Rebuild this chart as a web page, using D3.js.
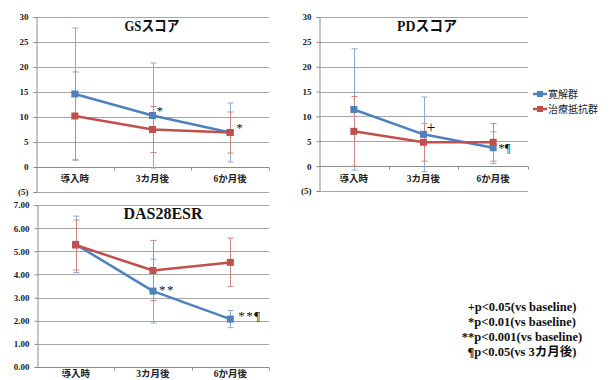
<!DOCTYPE html>
<html><head><meta charset="utf-8">
<script src="https://cdn.jsdelivr.net/npm/d3@7"></script>
<style>
html,body{margin:0;padding:0;background:#fff;}
svg{display:block;}
</style></head>
<body>
<script>
// ---- data ----
const categories = ["導入時", "3カ月後", "6か月後"];
const seriesNames = ["寛解群", "治療抵抗群"];

const gsRemission = [14.6, 10.3, 6.9];
const gsRemissionSD = [13.2, 10.5, 5.9];
const gsResistant = [10.2, 7.5, 6.9];
const gsResistantSD = [8.8, 4.6, 4.1];

const pdRemission = [11.4, 6.4, 3.7];
const pdRemissionSD = [12.2, 7.5, 3.2];
const pdResistant = [7.0, 4.8, 4.8];
const pdResistantSD = [7.0, 3.8, 3.8];

const dasRemission = [5.30, 3.28, 2.07];
const dasRemissionSD = [1.22, 1.38, 0.37];
const dasResistant = [5.27, 4.17, 4.52];
const dasResistantSD = [1.08, 1.30, 1.05];

const scoreTicks = [-5, 0, 5, 10, 15, 20, 25, 30];
const dasTicks = [0, 1, 2, 3, 4, 5, 6, 7];

const gsMarks = [{cat: 1, s: 0, text: "*"}, {cat: 2, s: 0, text: "*"}];
const pdMarks = [{cat: 1, s: 0, text: "+"}, {cat: 2, s: 0, text: "*¶"}];
const dasMarks = [{cat: 1, s: 0, text: "**"}, {cat: 2, s: 0, text: "**¶"}];

const footnotes = ["+p<0.05(vs baseline)", "*p<0.01(vs baseline)", "**p<0.001(vs baseline)", "¶p<0.05(vs 3カ月後)"];

// ---- style ----
const colors = ["#4F81BD", "#C0504D"];
const errColors = ["#8DAAD3", "#CC8583"];
const serif = "'Liberation Serif','DejaVu Serif','Noto Sans CJK JP',serif";
const gothic = "'Noto Sans CJK JP','DejaVu Sans',sans-serif";

const svg = d3.select("body").append("svg").attr("width", 611).attr("height", 380);

function panel(cfg) {
  const g = svg.append("g");
  const x = d3.scaleBand().domain(categories).range([cfg.x0, cfg.x1]);
  const y = d3.scaleLinear().domain(cfg.domain).range([cfg.y0, cfg.y1]);

  // gridlines
  g.append("g").selectAll("line").data(cfg.ticks).join("line")
    .attr("x1", cfg.x0).attr("x2", cfg.x1)
    .attr("y1", d => Math.round(y(d)) + 0.5).attr("y2", d => Math.round(y(d)) + 0.5)
    .attr("stroke", d => d === cfg.base ? "#8c8c8c" : "#a6a6a6").attr("stroke-width", 1);

  // y axis
  const ya = d3.axisLeft(y).tickValues(cfg.ticks).tickSize(3).tickFormat(cfg.fmt);
  const yg = g.append("g").attr("transform", `translate(${cfg.x0 + 0.5},0)`).call(ya);
  yg.select(".domain").attr("stroke", "#8c8c8c");
  yg.selectAll(".tick line").attr("stroke", "#8c8c8c");
  yg.selectAll(".tick text").attr("font-family", serif).attr("font-weight", "bold")
    .attr("font-size", cfg.tickFont).attr("fill", "#222").attr("dx", "-2px");

  // category axis at base value
  const by = Math.round(y(cfg.base)) + 0.5;
  const bounds = [cfg.x0 + x.step(), cfg.x0 + 2 * x.step(), cfg.x1];
  g.append("g").selectAll("line").data(bounds).join("line")
    .attr("x1", d => Math.round(d) + 0.5).attr("x2", d => Math.round(d) + 0.5)
    .attr("y1", by).attr("y2", by + 3).attr("stroke", "#8c8c8c");
  g.append("g").selectAll("text").data(categories).join("text")
    .attr("x", d => x(d) + x.bandwidth() / 2).attr("y", cfg.labelY)
    .attr("text-anchor", "middle").attr("font-family", serif).attr("font-weight", "bold")
    .attr("font-size", 9.5).attr("fill", "#222").text(d => d);

  // title
  const t = g.append("text").attr("x", cfg.titleX).attr("y", cfg.titleY).attr("text-anchor", "middle")
    .attr("font-family", serif).attr("font-weight", "bold").attr("font-size", cfg.titleSize)
    .attr("fill", "#111").text(cfg.title);
  if (cfg.titleLen) t.attr("textLength", cfg.titleLen).attr("lengthAdjust", "spacingAndGlyphs");

  // error bars
  cfg.series.forEach((s, si) => {
    const eb = g.append("g");
    s.values.forEach((v, i) => {
      const sd = s.sd[i];
      const top = y(v + sd), bot = y(v - sd);
      const cx = Math.round(x(categories[i]) + x.bandwidth() / 2) + 0.5;
      eb.append("line").attr("x1", cx).attr("x2", cx).attr("y1", top).attr("y2", bot)
        .attr("stroke", errColors[si]).attr("stroke-width", 1);
      [top, bot].forEach(yy => {
        eb.append("line").attr("x1", cx - 3).attr("x2", cx + 3).attr("y1", yy).attr("y2", yy)
          .attr("stroke", errColors[si]).attr("stroke-width", 1);
      });
    });
  });
  // lines and markers
  cfg.series.forEach((s, si) => {
    const pts = s.values.map((v, i) => [x(categories[i]) + x.bandwidth() / 2, y(v)]);
    g.append("path").attr("d", d3.line()(pts)).attr("fill", "none")
      .attr("stroke", colors[si]).attr("stroke-width", 2.5).attr("stroke-linejoin", "round");
    g.append("g").selectAll("rect").data(pts).join("rect")
      .attr("x", d => d[0] - 3.5).attr("y", d => d[1] - 3.5).attr("width", 7).attr("height", 7)
      .attr("fill", colors[si]);
  });

  // significance marks
  cfg.marks.forEach((m, k) => {
    const s = cfg.series[m.s];
    const px = x(categories[m.cat]) + x.bandwidth() / 2;
    const py = y(s.values[m.cat]);
    const off = cfg.markOff[k];
    g.append("text").attr("x", px + off[0]).attr("y", py + off[1])
      .attr("font-family", serif).attr("font-size", m.text === "+" ? 16 : 13)
      .attr("letter-spacing", m.text.startsWith("**") ? "1.5px" : "0px")
      .attr("fill", "#111").text(m.text);
  });
}

panel({
  x0: 36, x1: 269, y0: 192, y1: 17, domain: [-5, 30], ticks: scoreTicks, base: 0,
  fmt: d => d < 0 ? `(${-d})` : d, tickFont: 9, labelY: 182,
  title: "GSスコア", titleX: 152, titleY: 31, titleSize: 15, titleLen: 55,
  series: [{values: gsRemission, sd: gsRemissionSD}, {values: gsResistant, sd: gsResistantSD}],
  marks: gsMarks, markOff: [[4, -1], [6, -1]]
});
panel({
  x0: 319, x1: 528, y0: 191, y1: 17, domain: [-5, 30], ticks: scoreTicks, base: 0,
  fmt: d => d < 0 ? `(${-d})` : d, tickFont: 9, labelY: 182,
  title: "PDスコア", titleX: 427, titleY: 31, titleSize: 15, titleLen: 60,
  series: [{values: pdRemission, sd: pdRemissionSD}, {values: pdResistant, sd: pdResistantSD}],
  marks: pdMarks, markOff: [[3, -1], [5, 4]]
});
panel({
  x0: 37, x1: 269, y0: 367, y1: 205, domain: [0, 7], ticks: dasTicks, base: 0,
  fmt: d3.format(".2f"), tickFont: 9, labelY: 377,
  title: "DAS28ESR", titleX: 163, titleY: 219, titleSize: 16, titleLen: 0,
  series: [{values: dasRemission, sd: dasRemissionSD}, {values: dasResistant, sd: dasResistantSD}],
  marks: dasMarks, markOff: [[6, 3], [8, 1]]
});

// legend
const lg = svg.append("g");
seriesNames.forEach((n, i) => {
  const yy = 94 + i * 15;
  lg.append("line").attr("x1", 533).attr("x2", 547).attr("y1", yy).attr("y2", yy)
    .attr("stroke", colors[i]).attr("stroke-width", 2.5);
  lg.append("rect").attr("x", 537).attr("y", yy - 3).attr("width", 6).attr("height", 6).attr("fill", colors[i]);
  lg.append("text").attr("x", 548).attr("y", yy + 4).attr("font-family", gothic)
    .attr("font-size", 10).attr("fill", "#222").text(n);
});

// footnotes
svg.append("g").selectAll("text").data(footnotes).join("text")
  .attr("x", 522).attr("y", (d, i) => 311 + i * 15).attr("text-anchor", "middle")
  .attr("font-family", serif).attr("font-weight", "bold").attr("font-size", 12.5)
  .attr("fill", "#111").text(d => d);
</script>
</body></html>
